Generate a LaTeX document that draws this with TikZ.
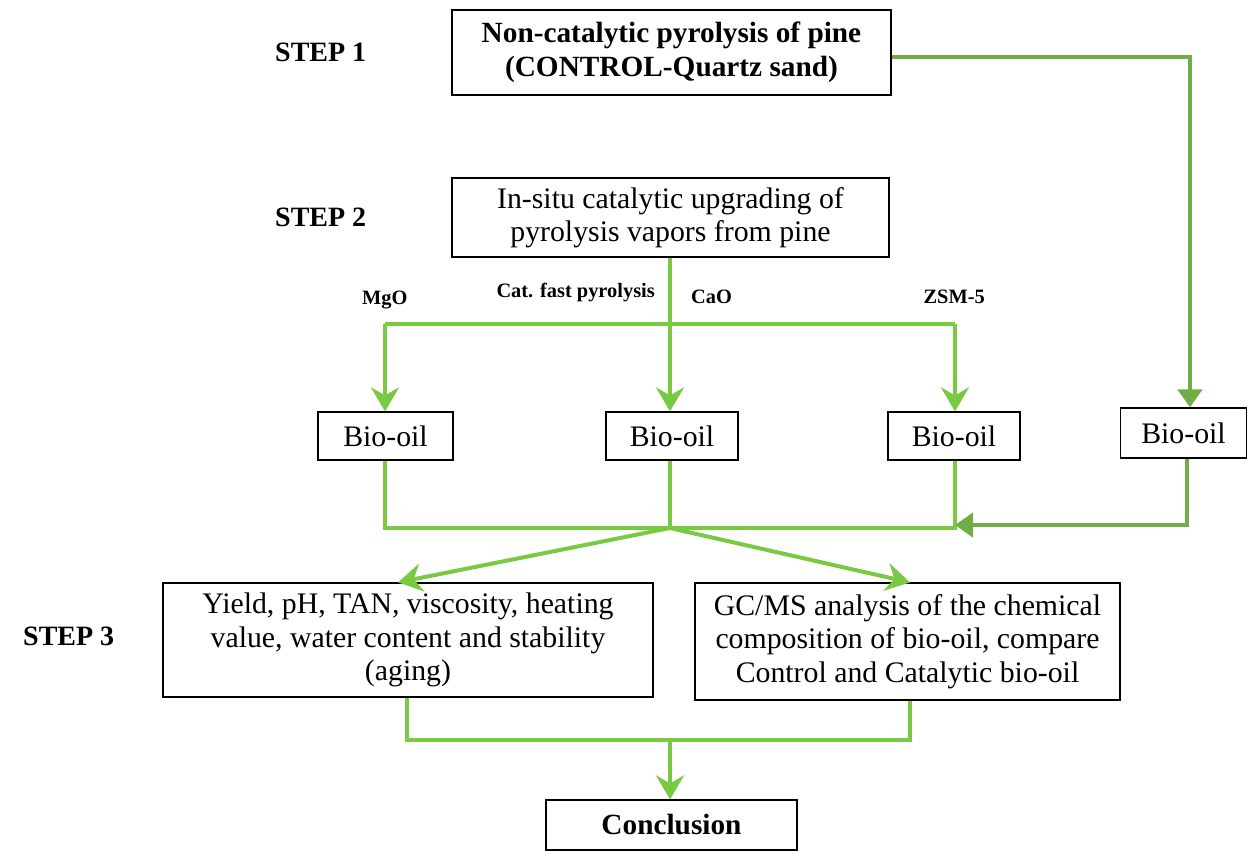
\documentclass[tikz,border=0pt]{standalone}
\usepackage{fontspec}
\setmainfont{Liberation Serif}
\usetikzlibrary{arrows.meta}
\definecolor{lgreen}{HTML}{7AC943}
\definecolor{dgreen}{HTML}{70AD47}
\begin{document}
\begin{tikzpicture}[x=1pt,y=-1pt,
  box/.style={draw=black,line width=1.2pt,inner sep=0pt,align=center,font=\fontsize{29.8}{33.5}\selectfont},
  boldbox/.style={box,font=\fontsize{29.3}{33.5}\selectfont\bfseries},
  steplabel/.style={font=\fontsize{28}{32}\selectfont\bfseries,anchor=west,inner sep=0pt},
  catlabel/.style={font=\fontsize{20.4}{24}\selectfont\bfseries,inner sep=0pt},
  gline/.style={draw=lgreen,line width=4pt,line join=miter},
  garrow/.style={gline,-{Stealth[length=24pt,width=28pt,inset=8pt]}},
  dline/.style={draw=dgreen,line width=4.5pt,line join=miter},
  darrow/.style={dline,-{Triangle[length=18pt,width=24pt]}}
]
\useasboundingbox (0,0) rectangle (1248,854);

% boxes
\node[boldbox,minimum width=439pt,minimum height=85pt] (b1) at (671.5,52.5) {Non-catalytic pyrolysis of pine\\(CONTROL-Quartz sand)};
\node[box,minimum width=437pt,minimum height=79pt] (b2) at (670.5,217.5) {In-situ catalytic upgrading of\\pyrolysis vapors from pine};
\node[box,minimum width=135pt,minimum height=48pt] (o1) at (385.5,436) {Bio-oil};
\node[box,minimum width=132pt,minimum height=48pt] (o2) at (672,436) {Bio-oil};
\node[box,minimum width=132pt,minimum height=48pt] (o3) at (954,436) {Bio-oil};
\node[box,minimum width=126pt,minimum height=50pt] (o4) at (1183.5,433) {Bio-oil};
\node[box,minimum width=490pt,minimum height=114pt] (r1) at (408,640) {Yield, pH, TAN, viscosity, heating\\value, water content and stability\\(aging)};
\node[box,minimum width=425pt,minimum height=117pt] (r2) at (907.5,641.5) {GC/MS analysis of the chemical\\composition of bio-oil, compare\\Control and Catalytic bio-oil};
\node[boldbox,minimum width=251pt,minimum height=50pt] (cc) at (671.5,825) {Conclusion};

% step labels
\node[steplabel] (s1) at (275,52) {STEP 1};
\node[steplabel] (s2) at (275,217) {STEP 2};
\node[steplabel] (s3) at (23,636) {STEP 3};

% catalyst labels
\node[catlabel,anchor=west] (lm) at (362,300) {MgO};
\node[catlabel,anchor=east] (lc) at (655,293) {Cat. fast pyrolysis};
\node[catlabel,anchor=west] (la) at (691,297) {CaO};
\node[catlabel,anchor=east] (lz) at (985,297) {ZSM-5};

% junction coordinates
\coordinate (j1) at (670,324);
\coordinate (jl) at (385,324);
\coordinate (jr) at (955,324);
\coordinate (k1) at (670,528);
\coordinate (kl) at (385,528);
\coordinate (kr) at (955,528);
\coordinate (m1) at (670,740);
\coordinate (ml) at (407,740);
\coordinate (mr) at (910,740);
\coordinate (c1) at (1190,57);
\coordinate (c2) at (1187,525);

% step 2 branching
\draw[gline] (jl) -- (jr);
\draw[garrow] (b2.south -| j1) -- (j1) -- (o2.north -| j1);
\draw[garrow] (jl) -- (o1.north -| jl);
\draw[garrow] (jr) -- (o3.north -| jr);

% merge
\draw[gline] (o1.south -| kl) -- (kl) -- (kr) -- (o3.south -| kr);
\draw[gline] (o2.south -| k1) -- (k1);
\draw[garrow] (k1) -- (r1.north -| 398,0);
\draw[garrow] (k1) -- (r2.north -| 910,0);

% control path
\draw[darrow] (b1.east |- c1) -- (c1) -- (o4.north -| c1);
\draw[darrow] (o4.south -| c2) -- (c2) -- (kr |- c2);

% conclusion
\draw[gline] (r1.south -| ml) -- (ml) -- (mr) -- (r2.south -| mr);
\draw[garrow] (m1) -- (cc.north -| m1);
\end{tikzpicture}
\end{document}
